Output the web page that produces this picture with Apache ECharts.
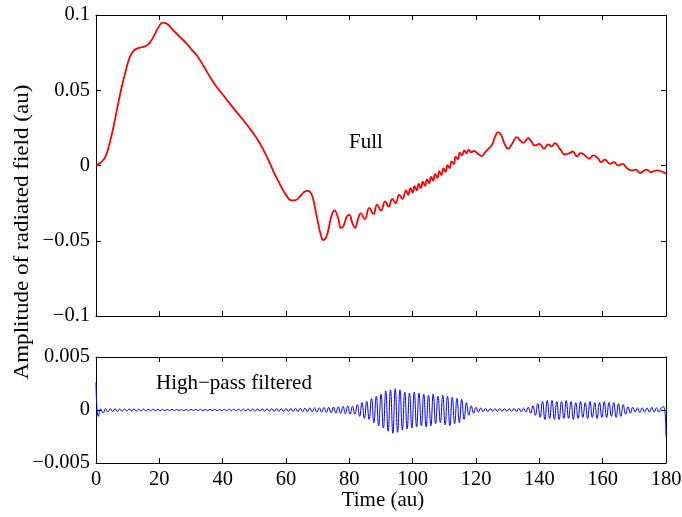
<!DOCTYPE html>
<html>
<head>
<meta charset="utf-8">
<script src="https://cdn.jsdelivr.net/npm/echarts@6/dist/echarts.min.js"></script>
<style>
  html, body { margin: 0; padding: 0; background: #fff; }
</style>
</head>
<body>
<div id="container" style="width: 682px; height: 517px;"></div>
<script>
// full field, [time, amplitude]
var fullField = [
  [0, 0], [1.5, 0.002], [2.9, 0.0055], [4.2, 0.014], [5.5, 0.0255], [6.8, 0.039], [8.1, 0.052],
  [9.4, 0.063], [10.7, 0.072], [12.0, 0.0765], [13.3, 0.078], [15.0, 0.0788], [16.2, 0.080],
  [17.3, 0.0825], [18.5, 0.087], [19.8, 0.092], [21.1, 0.095], [22.4, 0.0942], [23.5, 0.092],
  [24.9, 0.0888], [26.5, 0.0855], [28.6, 0.081], [30.2, 0.077], [31.8, 0.0733], [34.0, 0.066],
  [36.0, 0.0589], [38.0, 0.0525], [40.2, 0.0467], [42.3, 0.041], [44.4, 0.0355], [46.5, 0.0302],
  [48.6, 0.0245], [50.2, 0.0198], [51.8, 0.0145], [53.4, 0.0082], [54.9, 0.0015], [56.4, -0.0055],
  [58.1, -0.0125], [60.0, -0.0195], [61.8, -0.0232], [63.0, -0.023], [64.2, -0.021], [65.5, -0.018],
  [66.7, -0.0168], [67.6, -0.0175], [68.4, -0.021], [69.3, -0.0295], [70.2, -0.0389], [71.0, -0.046],
  [71.8, -0.0495], [72.6, -0.048], [73.4, -0.0425], [74.3, -0.034], [75.3, -0.0298], [76.4, -0.0345],
  [77.4, -0.0415], [78.1, -0.0405], [79.2, -0.034], [80.0, -0.0328], [80.9, -0.038], [81.8, -0.0414],
  [82.7, -0.036], [83.6, -0.0318], [84.9, -0.0356], [86.3, -0.0282], [87.6, -0.0322], [88.8, -0.026],
  [90.0, -0.030], [91.3, -0.0238], [92.4, -0.0273], [93.6, -0.0222], [94.6, -0.0251], [95.8, -0.0195],
  [96.8, -0.0222], [97.9, -0.0165], [98.6, -0.0195], [99.3, -0.0150], [100.0, -0.0180], [100.6, -0.0138],
  [101.3, -0.0165], [101.9, -0.0122], [102.6, -0.0150], [103.2, -0.0108], [103.9, -0.0135], [104.5, -0.0092],
  [105.2, -0.0118], [105.8, -0.0075], [106.5, -0.0100], [107.1, -0.0058], [107.8, -0.0082], [108.4, -0.0040],
  [109.1, -0.0063], [109.7, -0.0020], [110.4, -0.0042], [111.0, 0.0002], [111.7, -0.0018], [112.3, 0.0028],
  [113.0, 0.0010], [113.6, 0.0058], [114.3, 0.0042], [114.9, 0.0085], [115.6, 0.0068], [116.3, 0.0100],
  [117.0, 0.0082], [117.7, 0.0103], [118.5, 0.0088], [119.3, 0.0097], [120.3, 0.0084], [121.0, 0.0072],
  [121.8, 0.0062], [122.8, 0.0085], [123.9, 0.0111], [125.0, 0.0135], [126.0, 0.019], [127.0, 0.0222],
  [128.0, 0.020], [129.0, 0.0145], [130.2, 0.0111], [131.5, 0.0148], [132.9, 0.0189], [133.9, 0.0168],
  [134.9, 0.0151], [135.7, 0.0165], [136.5, 0.0182], [137.5, 0.0158], [138.6, 0.0133], [140.0, 0.0144],
  [141.5, 0.0111], [142.8, 0.014], [143.9, 0.0127], [144.9, 0.0149], [146.5, 0.0111], [148.1, 0.0073],
  [149.5, 0.0082], [150.5, 0.0093], [152.0, 0.006], [153.0, 0.0082], [154.4, 0.0067], [155.8, 0.0045],
  [157.0, 0.0067], [158.4, 0.0051], [159.5, 0.0022], [160.7, 0.004], [162.3, 0.0011], [163.6, 0.0022],
  [164.9, 0.0], [166.3, 0.0011], [167.6, -0.0016], [169.2, -0.0033], [170.5, -0.0027], [171.8, -0.0049],
  [173.9, -0.0027], [175.2, -0.0044], [177.1, -0.0033], [178.7, -0.004], [180, -0.0055]
];

// high-pass filtered signal, sampled every hpStep time units from t = 0
var hpStep = 0.75;
var highPass = [
  0.0026, -0.0006, 0.0001, -0.0003, 0.00012, -0.0002, 0.00012, -0.00015,
  0.00012, -0.00012, 0.0001, -0.00012, 0.0001, -0.0001, 0.0001, -0.0001,
  0.0001, -0.0001, 0.00009, -0.0001, 0.00009, -0.00009, 0.00008, -0.00008,
  0.00008, -0.00008, 0.00007, -0.00007, 0.00007, -0.00007, 0.00006, -0.00006,
  0.00006, -0.00006, 0.00005, -0.00005, 0.00005, -0.00005, 0.00005, -0.00005,
  0.00005, -0.00005, 0.00005, -0.00005, 0.00006, -0.00006, 0.00006, -0.00006,
  0.00006, -0.00006, 0.00007, -0.00007, 0.00007, -0.00007, 0.00008, -0.00008,
  0.00008, -0.00008, 0.00008, -0.00008, 0.00009, -0.00009, 0.00009, -0.00009,
  0.0001, -0.0001, 0.0001, -0.0001, 0.0001, -0.0001, 0.00011, -0.00011,
  0.00011, -0.00011, 0.00012, -0.00012, 0.00012, -0.00012, 0.00013, -0.00013,
  0.00013, -0.00013, 0.00014, -0.00014, 0.00015, -0.00015, 0.00016, -0.00016,
  0.00017, -0.00017, 0.00018, -0.00018, 0.0002, -0.0002, 0.00021, -0.00022,
  0.00023, -0.00024, 0.00025, -0.00026, 0.00028, -0.0003, 0.0003, -0.00032,
  0.00034, -0.00036, 0.00038, -0.0004, 0.00035, -0.0004, 0.0005, -0.0006,
  0.0007, -0.0008, 0.0008, -0.0009, 0.0011, -0.0012, 0.0013, -0.0015,
  0.0015, -0.0017, 0.0018, -0.002, 0.0019, -0.0022, 0.002, -0.0021,
  0.0019, -0.0019, 0.0017, -0.0018, 0.0016, -0.0017, 0.0017, -0.0016,
  0.0016, -0.0015, 0.0015, -0.0016, 0.0014, -0.0015, 0.0015, -0.0013,
  0.0013, -0.0012, 0.0014, -0.0014, 0.0013, -0.0015, 0.0012, -0.0013,
  0.0011, -0.0012, 0.001, -0.0009, 0.0007, -0.0005, 0.0004, -0.0003,
  0.00025, -0.0002, 0.00018, -0.00016, 0.00015, -0.00014, 0.00013, -0.00013,
  0.00012, -0.00012, 0.00012, -0.00012, 0.00012, -0.00012, 0.00013, -0.00013,
  0.00014, -0.00014, 0.00015, -0.00016, 0.00018, -0.0002, 0.00025, -0.0003,
  0.0004, -0.0005, 0.0006, -0.0007, 0.0008, -0.0009, 0.0009, -0.0008,
  0.0009, -0.0009, 0.0008, -0.0009, 0.0008, -0.0008, 0.0009, -0.0008,
  0.0008, -0.0009, 0.0007, -0.0008, 0.0008, -0.0007, 0.0007, -0.0008,
  0.0008, -0.0007, 0.0007, -0.0008, 0.0007, -0.0007, 0.0008, -0.0007,
  0.0007, -0.0006, 0.0007, -0.0007, 0.0006, -0.0006, 0.0005, -0.0004,
  0.0003, -0.0003, 0.00025, -0.0002, 0.0002, -0.00025, 0.0002, -0.0002,
  0.0002, -0.0002, 0.00025, -0.0002, 0.0002, -0.0002, 0.0002, 0.0003,
  -0.0025
];

var timeTicks = [0, 180, 20];          // min, max, step
var fullTicks = [-0.1, 0.1, 0.05];
var hpTicks = [-0.005, 0.005, 0.005];

var font = 'Liberation Serif';
var txt = { color: '#000', fontFamily: font, fontSize: 20.5 };
var textFont = '21px "Liberation Serif"';

function minus(v) {
  return String(v).replace('-', '\u2212');
}

function xAx(grid, pos, labels, t) {
  return {
    type: 'value', gridIndex: grid, position: pos,
    min: t[0], max: t[1], interval: t[2],
    axisLine: { show: true, onZero: false, lineStyle: { color: '#000', width: 1 } },
    axisTick: { show: true, inside: true, length: 5, lineStyle: { color: '#000' } },
    axisLabel: Object.assign({ show: labels, margin: 6, formatter: minus }, txt),
    splitLine: { show: false }
  };
}

function yAx(grid, pos, labels, t) {
  return {
    type: 'value', gridIndex: grid, position: pos,
    min: t[0], max: t[1], interval: t[2],
    axisLine: { show: true, onZero: false, lineStyle: { color: '#000', width: 1 } },
    axisTick: { show: true, inside: true, length: 5, lineStyle: { color: '#000' } },
    axisLabel: Object.assign({ show: labels, margin: 6, formatter: minus }, txt),
    splitLine: { show: false }
  };
}

var hpData = highPass.map(function (v, i) { return [i * hpStep, v]; });

var chart = echarts.init(document.getElementById('container'));

var option = {
  animation: false,
  backgroundColor: '#fff',
  grid: [
    { left: 96, right: 16, top: 15, height: 301, outerBoundsMode: 'none', containLabel: false },
    { left: 96, right: 16, top: 357, height: 106, outerBoundsMode: 'none', containLabel: false }
  ],
  xAxis: [
    xAx(0, 'bottom', false, timeTicks),
    xAx(0, 'top', false, timeTicks),
    xAx(1, 'bottom', true, timeTicks),
    xAx(1, 'top', false, timeTicks)
  ],
  yAxis: [
    yAx(0, 'left', true, fullTicks),
    yAx(0, 'right', false, fullTicks),
    yAx(1, 'left', true, hpTicks),
    yAx(1, 'right', false, hpTicks)
  ],
  graphic: [
    { type: 'text', x: 349, y: 142, style: { text: 'Full', fill: '#000', font: textFont, verticalAlign: 'middle' } },
    { type: 'text', x: 156, y: 383, style: { text: 'High\u2212pass filtered', fill: '#000', font: textFont, verticalAlign: 'middle' } },
    { type: 'text', x: 383, y: 500, style: { text: 'Time (au)', fill: '#000', font: textFont, align: 'center', verticalAlign: 'middle' } },
    { type: 'text', x: 22, y: 232, rotation: Math.PI / 2, scaleX: 1.1,
      style: { text: 'Amplitude of radiated field (au)', fill: '#000', font: textFont,
               align: 'center', verticalAlign: 'middle' } }
  ],
  series: [
    {
      name: 'Full', type: 'line', xAxisIndex: 0, yAxisIndex: 0,
      data: fullField, showSymbol: false, smooth: true,
      lineStyle: { color: '#ff0000', width: 1.8 }
    },
    {
      name: 'High-pass filtered', type: 'line', xAxisIndex: 2, yAxisIndex: 2,
      data: hpData, showSymbol: false, smooth: true,
      lineStyle: { color: '#0000ff', width: 1 }
    }
  ]
};

chart.setOption(option);
</script>
</body>
</html>
